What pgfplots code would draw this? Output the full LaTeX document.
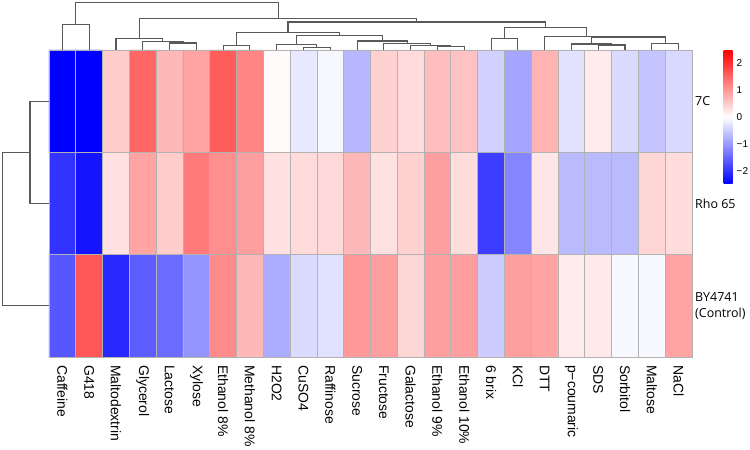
\documentclass[border=0pt]{standalone}
\usepackage{fontspec}
\setmainfont{Liberation Sans}
\newfontfamily\rowfont{Open Sans}
\usepackage{pgfplots}
\usepackage{pgfplotstable}
\pgfplotsset{compat=1.18}
\pgfplotstableread{
x y c
0 0 -1.65
1 0 1.65
2 0 -2.1
3 0 -1.6
4 0 -1.45
5 0 -1.05
6 0 1.15
7 0 0.7
8 0 -0.82
9 0 -0.35
10 0 -0.3
11 0 1.0
12 0 0.95
13 0 0.4
14 0 0.95
15 0 0.95
16 0 -0.5
17 0 0.95
18 0 0.9
19 0 0.2
20 0 0.22
21 0 -0.08
22 0 -0.07
23 0 0.9
0 1 -2.0
1 1 -2.3
2 1 0.3
3 1 0.9
4 1 0.5
5 1 1.3
6 1 1.1
7 1 0.95
8 1 0.3
9 1 0.35
10 1 0.37
11 1 0.7
12 1 0.3
13 1 0.45
14 1 0.95
15 1 0.33
16 1 -1.9
17 1 -1.2
18 1 0.25
19 1 -0.68
20 1 -0.68
21 1 -0.68
22 1 0.4
23 1 0.33
0 2 -2.5
1 2 -2.5
2 2 0.5
3 2 1.5
4 2 0.7
5 2 0.9
6 2 1.6
7 2 1.2
8 2 0.05
9 2 -0.22
10 2 -0.08
11 2 -0.7
12 2 0.45
13 2 0.35
14 2 0.65
15 2 0.6
16 2 -0.45
17 2 -0.88
18 2 0.75
19 2 -0.28
20 2 0.2
21 2 -0.35
22 2 -0.58
23 2 -0.37
}\heat
\begin{document}
\begin{tikzpicture}
\begin{axis}[
  name=main,
  scale only axis, width=643bp, height=307bp,
  xmin=-0.5, xmax=23.5, ymin=-0.5, ymax=2.5,
  clip=false, axis on top,
  colormap={bwr}{rgb255=(0,0,255) rgb255=(255,255,255) rgb255=(255,0,0)},
  point meta min=-2.5, point meta max=2.5,
  xtick={0,...,23},
  xticklabels={Caffeine,G418,Maltodextrin,Glycerol,Lactose,Xylose,Ethanol 8\%,Methanol 8\%,H2O2,CuSO4,Raffinose,Sucrose,Fructose,Galactose,Ethanol 9\%,Ethanol 10\%,6 brix,KCl,DTT,p−coumaric,SDS,Sorbitol,Maltose,NaCl},
  ytick={0,1,2},
  yticklabels={{BY4741\\(Control)},Rho 65,7C},
  yticklabel pos=right,
  major tick length=0pt, minor tick length=0pt,
  minor xtick={0.5,1.5,...,22.5}, minor ytick={0.5,1.5},
  xminorgrids=true, yminorgrids=true,
  minor grid style={gray!60, line width=0.8bp},
  axis line style={gray!60, line width=0.8bp},
  xticklabel style={rotate=-90, anchor=west, font=\fontsize{14}{16}\selectfont, inner sep=0pt},
  xticklabel shift=8bp,
  yticklabel style={anchor=west, align=left, font=\rowfont\fontsize{12.5}{16}\selectfont, inner sep=0pt},
  yticklabel shift=3bp,
  colorbar,
  colorbar style={
    at={(parent axis.north east)}, anchor=north west, xshift=23bp,
    scale only axis, width=9bp, height=134bp,
    ytick={-2,-1,0,1,2}, yticklabels={−2,−1,0,1,2},
    yticklabel style={font=\fontsize{10}{12}\selectfont, inner sep=0pt},
    yticklabel shift=4bp,
    axis line style={draw=none}, major tick length=0pt,
  },
  dendro/.style={draw=black!65, line width=1.1bp, no markers, forget plot},
]
\addplot[matrix plot*, mesh/cols=24, point meta=explicit] table[x=x, y=y, meta=c] {\heat};
% column dendrogram
\addplot[dendro] coordinates {(0,2.5)(0,2.7512)(1,2.7512)(1,2.5)};
\addplot[dendro] coordinates {(4,2.5)(4,2.5684)(5,2.5684)(5,2.5)};
\addplot[dendro] coordinates {(3,2.5)(3,2.5811)(4.5,2.5811)(4.5,2.5684)};
\addplot[dendro] coordinates {(2,2.5)(2,2.6144)(3.75,2.6144)(3.75,2.5811)};
\addplot[dendro] coordinates {(6,2.5)(6,2.5420)(7,2.5420)(7,2.5)};
\addplot[dendro] coordinates {(9,2.5)(9,2.5225)(10,2.5225)(10,2.5)};
\addplot[dendro] coordinates {(8,2.5)(8,2.5557)(9.5,2.5557)(9.5,2.5225)};
\addplot[dendro] coordinates {(14,2.5)(14,2.5323)(15,2.5323)(15,2.5)};
\addplot[dendro] coordinates {(13,2.5)(13,2.5420)(14.5,2.5420)(14.5,2.5323)};
\addplot[dendro] coordinates {(12,2.5)(12,2.5635)(13.75,2.5635)(13.75,2.5420)};
\addplot[dendro] coordinates {(11,2.5)(11,2.5880)(12.875,2.5880)(12.875,2.5635)};
\addplot[dendro] coordinates {(8.75,2.5557)(8.75,2.6398)(11.9375,2.6398)(11.9375,2.5880)};
\addplot[dendro] coordinates {(6.5,2.5420)(6.5,2.6730)(10.34375,2.6730)(10.34375,2.6398)};
\addplot[dendro] coordinates {(16,2.5)(16,2.6144)(17,2.6144)(17,2.5)};
\addplot[dendro] coordinates {(20,2.5)(20,2.5489)(21,2.5489)(21,2.5)};
\addplot[dendro] coordinates {(19,2.5)(19,2.5587)(20.5,2.5587)(20.5,2.5489)};
\addplot[dendro] coordinates {(22,2.5)(22,2.5655)(23,2.5655)(23,2.5)};
\addplot[dendro] coordinates {(19.75,2.5587)(19.75,2.6271)(22.5,2.6271)(22.5,2.5655)};
\addplot[dendro] coordinates {(18,2.5)(18,2.6320)(21.125,2.6320)(21.125,2.6271)};
\addplot[dendro] coordinates {(16.5,2.6144)(16.5,2.7219)(19.5625,2.7219)(19.5625,2.6320)};
\addplot[dendro] coordinates {(8.421875,2.6730)(8.421875,2.7737)(18.03125,2.7737)(18.03125,2.7219)};
\addplot[dendro] coordinates {(2.875,2.6144)(2.875,2.8079)(13.2266,2.8079)(13.2266,2.7737)};
\addplot[dendro] coordinates {(0.5,2.7512)(0.5,2.9624)(8.0508,2.9624)(8.0508,2.8079)};
% row dendrogram
\addplot[dendro] coordinates {(-0.5,2)(-1.209,2)(-1.209,1)(-0.5,1)};
\addplot[dendro] coordinates {(-1.209,1.5)(-2.243,1.5)(-2.243,0)(-0.5,0)};
\end{axis}
\pgfresetboundingbox
\path[use as bounding box] ([shift={(-49bp,-93bp)}]main.south west) rectangle ([shift={(58bp,50bp)}]main.north east);
\end{tikzpicture}
\end{document}
